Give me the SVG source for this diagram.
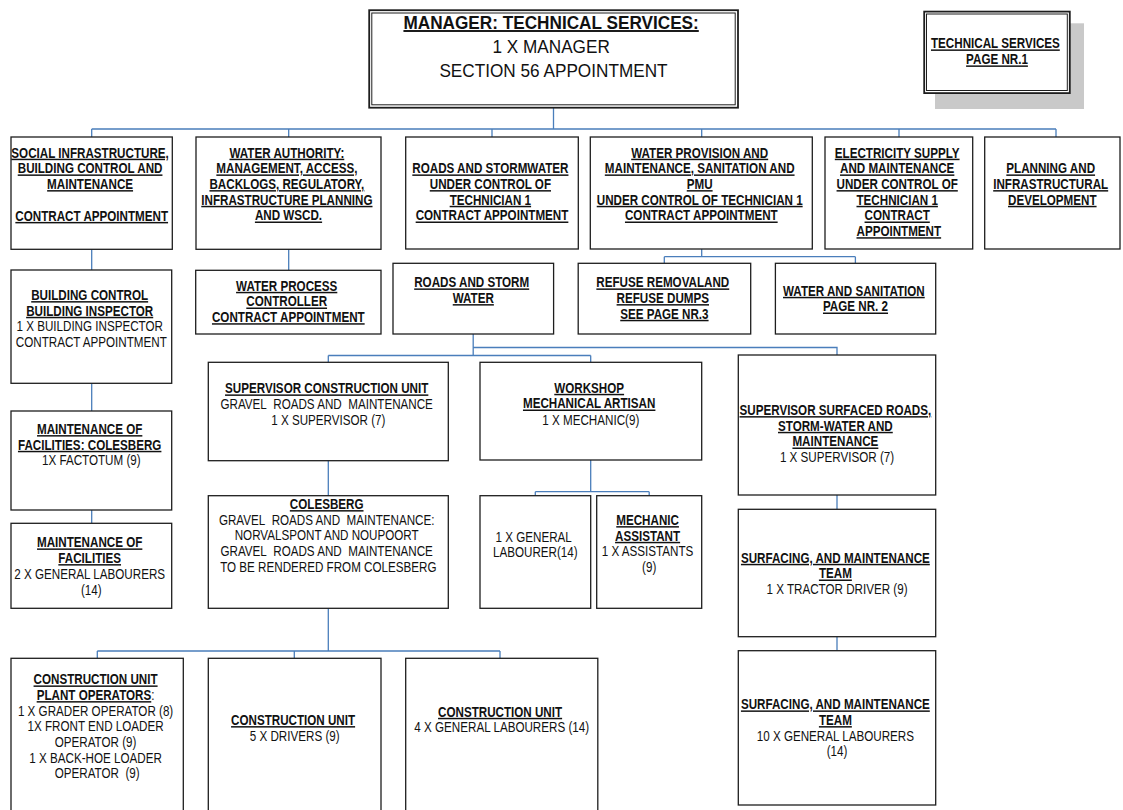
<svg xmlns="http://www.w3.org/2000/svg" width="1123" height="810" viewBox="0 0 1123 810">
  <style>
    .bg { fill: #ffffff; }
    .box { fill: #ffffff; stroke: #1e1e1e; stroke-width: 1.3; }
    .dbl { fill: #ffffff; stroke: #1e1e1e; stroke-width: 1.8; }
    .dbl-in { fill: none; stroke: #1e1e1e; stroke-width: 1; }
    .shadow { fill: #c9c9c9; }
    .wire { fill: none; stroke: #4a7ebb; stroke-width: 1.3; }
    .t { font-family: "Liberation Sans", Arial, sans-serif; font-size: 14.8px; fill: #111111; text-anchor: middle; }
    .big { font-size: 19px; }
    .b { font-weight: bold; text-decoration: underline; }
  </style>

  <rect class="bg" x="0" y="0" width="1123" height="810"/>

  <!-- connectors -->
  <g id="connectors">
    <path class="wire" d="M553.5 108 V129 M91.7 129 H1056 M91.7 129 V137 M288.7 129 V137 M492 129 V137 M701.7 129 V137 M899 129 V137 M1056 129 V137"/>
    <path class="wire" d="M91.7 249 V270 M288.7 249 V270.3"/>
    <path class="wire" d="M701.7 249 V256.7 M664.3 256.7 H855.4 M664.3 256.7 V263.3 M855.4 256.7 V263.3"/>
    <path class="wire" d="M473.2 334 V355.5 M473.2 347.5 H837 V355 M328.3 355.5 H590.7 M328.3 355.5 V362.3 M590.7 355.5 V362.3"/>
    <path class="wire" d="M91.7 383.3 V411 M91.7 510 V523.3"/>
    <path class="wire" d="M328.3 460.7 V495.7"/>
    <path class="wire" d="M590.7 460 V491.7 M535.3 491.7 H649.2 M535.3 491.7 V495.7 M649.2 491.7 V495.7"/>
    <path class="wire" d="M837 495 V509.3 M837 636.7 V650.7"/>
    <path class="wire" d="M328.3 608.3 V651 M97.3 651 H500 M97.3 651 V658.3 M294.3 651 V658.3 M500 651 V658.3"/>
  </g>

  <!-- head of department -->
  <g id="manager">
    <rect class="dbl" x="369.2" y="10.2" width="368.8" height="97.5"/>
    <rect class="dbl-in" x="371.8" y="13" width="363.4" height="91.8"/>
    <text class="t big" transform="translate(553.5 0) scale(0.905 1)">
      <tspan class="b" x="0" y="29">MANAGER: TECHNICAL SERVICES:</tspan>
      <tspan x="0" y="53.4">1 X MANAGER</tspan>
      <tspan x="0" y="77.4">SECTION 56 APPOINTMENT</tspan>
    </text>
  </g>

  <!-- page label -->
  <g id="page-label">
    <rect class="shadow" x="935" y="23.3" width="149" height="85.7"/>
    <rect class="dbl" x="924.2" y="11.6" width="145.6" height="81.5"/>
    <rect class="dbl-in" x="926.5" y="14" width="140.8" height="76.5"/>
    <text class="t" transform="translate(997 0) scale(0.787 1)">
      <tspan class="b" x="0" y="48.3">TECHNICAL SERVICES</tspan>
      <tspan class="b" x="0" y="64.3">PAGE NR.1</tspan>
    </text>
  </g>

  <!-- first level -->
  <g id="social-infrastructure">
    <rect class="box" x="11" y="137" width="161.3" height="112.3"/>
    <text class="t" transform="translate(91.7 0) scale(0.787 1)">
      <tspan class="b" x="0" y="157.6">SOCIAL INFRASTRUCTURE,</tspan>
      <tspan class="b" x="0" y="173.3">BUILDING CONTROL AND</tspan>
      <tspan class="b" x="0" y="189">MAINTENANCE</tspan>
      <tspan class="b" x="0" y="220.8">CONTRACT APPOINTMENT</tspan>
    </text>
  </g>

  <g id="water-authority">
    <rect class="box" x="196" y="137" width="185" height="112.3"/>
    <text class="t" transform="translate(288.5 0) scale(0.787 1)">
      <tspan class="b" x="0" y="157.6">WATER AUTHORITY:</tspan>
      <tspan class="b" x="0" y="173.3">MANAGEMENT, ACCESS,</tspan>
      <tspan class="b" x="0" y="189">BACKLOGS, REGULATORY,</tspan>
      <tspan class="b" x="0" y="204.7">INFRASTRUCTURE PLANNING</tspan>
      <tspan class="b" x="0" y="220.4">AND WSCD.</tspan>
    </text>
  </g>

  <g id="roads-stormwater">
    <rect class="box" x="405.7" y="137" width="172.6" height="112"/>
    <text class="t" transform="translate(492 0) scale(0.787 1)">
      <tspan class="b" x="0" y="173.3">ROADS AND STORMWATER</tspan>
      <tspan class="b" x="0" y="189">UNDER CONTROL OF</tspan>
      <tspan class="b" x="0" y="204.7">TECHNICIAN 1</tspan>
      <tspan class="b" x="0" y="220.4">CONTRACT APPOINTMENT</tspan>
    </text>
  </g>

  <g id="water-provision">
    <rect class="box" x="590.3" y="137" width="222" height="112"/>
    <text class="t" transform="translate(701.3 0) scale(0.787 1)">
      <tspan class="b" x="0" y="157.6">WATER PROVISION AND</tspan>
      <tspan class="b" x="0" y="173.3">MAINTENANCE, SANITATION AND</tspan>
      <tspan class="b" x="0" y="189">PMU</tspan>
      <tspan class="b" x="0" y="204.7">UNDER CONTROL OF TECHNICIAN 1</tspan>
      <tspan class="b" x="0" y="220.4">CONTRACT APPOINTMENT</tspan>
    </text>
  </g>

  <g id="electricity-supply">
    <rect class="box" x="825" y="137" width="147.7" height="112"/>
    <text class="t" transform="translate(898.8 0) scale(0.787 1)">
      <tspan class="b" x="0" y="157.6">ELECTRICITY SUPPLY</tspan>
      <tspan class="b" x="0" y="173.3">AND MAINTENANCE</tspan>
      <tspan class="b" x="0" y="189">UNDER CONTROL OF</tspan>
      <tspan class="b" x="0" y="204.7">TECHNICIAN 1</tspan>
      <tspan class="b" x="0" y="220.4">CONTRACT</tspan>
      <tspan class="b" x="0" y="236.1">APPOINTMENT</tspan>
    </text>
  </g>

  <g id="planning">
    <rect class="box" x="984.7" y="137" width="135.3" height="112"/>
    <text class="t" transform="translate(1052.3 0) scale(0.787 1)">
      <tspan class="b" x="0" y="173.3">PLANNING AND</tspan>
      <tspan class="b" x="0" y="189">INFRASTRUCTURAL</tspan>
      <tspan class="b" x="0" y="204.7">DEVELOPMENT</tspan>
    </text>
  </g>

  <!-- second level -->
  <g id="building-control">
    <rect class="box" x="11" y="270" width="160.7" height="113.3"/>
    <text class="t" transform="translate(91.3 0) scale(0.787 1)">
      <tspan class="b" x="0" y="300">BUILDING CONTROL</tspan>
      <tspan class="b" x="0" y="315.7">BUILDING INSPECTOR</tspan>
      <tspan x="0" y="331.4">1 X BUILDING INSPECTOR</tspan>
      <tspan x="0" y="347.1">CONTRACT APPOINTMENT</tspan>
    </text>
  </g>

  <g id="water-process">
    <rect class="box" x="195.7" y="270.3" width="185.3" height="63.7"/>
    <text class="t" transform="translate(288.3 0) scale(0.787 1)">
      <tspan class="b" x="0" y="290.7">WATER PROCESS</tspan>
      <tspan class="b" x="0" y="306.4">CONTROLLER</tspan>
      <tspan class="b" x="0" y="322.1">CONTRACT APPOINTMENT</tspan>
    </text>
  </g>

  <g id="roads-storm-water">
    <rect class="box" x="393" y="263.3" width="160.6" height="70.7"/>
    <text class="t" transform="translate(473.3 0) scale(0.787 1)">
      <tspan class="b" x="0" y="287.3">ROADS AND STORM</tspan>
      <tspan class="b" x="0" y="303">WATER</tspan>
    </text>
  </g>

  <g id="refuse-removal">
    <rect class="box" x="578.2" y="263.3" width="172.5" height="70.7"/>
    <text class="t" transform="translate(664.4 0) scale(0.787 1)">
      <tspan class="b" x="0" y="287.3">REFUSE REMOVALAND</tspan>
      <tspan class="b" x="0" y="303">REFUSE DUMPS</tspan>
      <tspan class="b" x="0" y="318.7">SEE PAGE NR.3</tspan>
    </text>
  </g>

  <g id="water-sanitation">
    <rect class="box" x="775.4" y="263.3" width="160.3" height="70.7"/>
    <text class="t" transform="translate(855.5 0) scale(0.787 1)">
      <tspan class="b" x="0" y="295.7">WATER AND SANITATION</tspan>
      <tspan class="b" x="0" y="311.4">PAGE NR. 2</tspan>
    </text>
  </g>

  <!-- building maintenance chain -->
  <g id="maintenance-colesberg">
    <rect class="box" x="11" y="411" width="160.7" height="99"/>
    <text class="t" transform="translate(91.3 0) scale(0.787 1)">
      <tspan class="b" x="0" y="434">MAINTENANCE OF</tspan>
      <tspan class="b" x="0" y="449.7">FACILITIES: COLESBERG</tspan>
      <tspan x="0" y="465.4">1X FACTOTUM (9)</tspan>
    </text>
  </g>

  <g id="maintenance-facilities">
    <rect class="box" x="11" y="523.3" width="160.7" height="85"/>
    <text class="t" transform="translate(91.3 0) scale(0.787 1)">
      <tspan class="b" x="0" y="547.3">MAINTENANCE OF</tspan>
      <tspan class="b" x="0" y="563">FACILITIES</tspan>
      <tspan x="0" y="578.7">2 X GENERAL LABOURERS</tspan>
      <tspan x="0" y="594.6">(14)</tspan>
    </text>
  </g>

  <!-- roads and storm water sections -->
  <g id="supervisor-construction">
    <rect class="box" x="208.3" y="362.3" width="240" height="98.4"/>
    <text class="t" transform="translate(328.3 0) scale(0.787 1)">
      <tspan class="b" x="0" y="393.3">SUPERVISOR CONSTRUCTION UNIT</tspan>
      <tspan x="0" y="409">GRAVEL&#160; ROADS AND&#160; MAINTENANCE</tspan>
      <tspan x="0" y="424.9">1 X SUPERVISOR (7)</tspan>
    </text>
  </g>

  <g id="colesberg">
    <rect class="box" x="208.3" y="495.7" width="240" height="112.6"/>
    <text class="t" transform="translate(328.3 0) scale(0.787 1)">
      <tspan class="b" x="0" y="509">COLESBERG</tspan>
      <tspan x="0" y="524.7">GRAVEL&#160; ROADS AND&#160; MAINTENANCE:</tspan>
      <tspan x="0" y="540.4">NORVALSPONT AND NOUPOORT</tspan>
      <tspan x="0" y="556.1">GRAVEL&#160; ROADS AND&#160; MAINTENANCE</tspan>
      <tspan x="0" y="571.8">TO BE RENDERED FROM COLESBERG</tspan>
    </text>
  </g>

  <g id="workshop">
    <rect class="box" x="480" y="362.3" width="221.7" height="97.7"/>
    <text class="t" transform="translate(590.8 0) scale(0.787 1)">
      <tspan class="b" x="0" y="392.7">WORKSHOP</tspan>
      <tspan class="b" x="0" y="408.4">MECHANICAL ARTISAN</tspan>
      <tspan x="0" y="424.6">1 X MECHANIC(9)</tspan>
    </text>
  </g>

  <g id="general-labourer">
    <rect class="box" x="480" y="495.7" width="110.7" height="112.6"/>
    <text class="t" transform="translate(535.3 0) scale(0.787 1)">
      <tspan x="0" y="541.7">1 X GENERAL</tspan>
      <tspan x="0" y="557.4">LABOURER(14)</tspan>
    </text>
  </g>

  <g id="mechanic-assistant">
    <rect class="box" x="596.7" y="495.7" width="105" height="112.6"/>
    <text class="t" transform="translate(649.2 0) scale(0.787 1)">
      <tspan class="b" x="0" y="525">MECHANIC</tspan>
      <tspan class="b" x="0" y="540.7">ASSISTANT</tspan>
      <tspan x="0" y="556.4">1 X ASSISTANTS</tspan>
      <tspan x="0" y="572.1">(9)</tspan>
    </text>
  </g>

  <g id="supervisor-surfaced">
    <rect class="box" x="738.3" y="355" width="197.4" height="140"/>
    <text class="t" transform="translate(837 0) scale(0.787 1)">
      <tspan class="b" x="0" y="415">SUPERVISOR SURFACED ROADS,</tspan>
      <tspan class="b" x="0" y="430.7">STORM-WATER AND</tspan>
      <tspan class="b" x="0" y="446.4">MAINTENANCE</tspan>
      <tspan x="0" y="462.1">1 X SUPERVISOR (7)</tspan>
    </text>
  </g>

  <g id="surfacing-team-driver">
    <rect class="box" x="738.3" y="509.3" width="197.4" height="127.4"/>
    <text class="t" transform="translate(837 0) scale(0.787 1)">
      <tspan class="b" x="0" y="562.7">SURFACING, AND MAINTENANCE</tspan>
      <tspan class="b" x="0" y="578.4">TEAM</tspan>
      <tspan x="0" y="594.1">1 X TRACTOR DRIVER (9)</tspan>
    </text>
  </g>

  <g id="surfacing-team-labourers">
    <rect class="box" x="738.3" y="650.7" width="197.4" height="154.3"/>
    <text class="t" transform="translate(837 0) scale(0.787 1)">
      <tspan class="b" x="0" y="709.3">SURFACING, AND MAINTENANCE</tspan>
      <tspan class="b" x="0" y="725">TEAM</tspan>
      <tspan x="0" y="740.7">10 X GENERAL LABOURERS</tspan>
      <tspan x="0" y="756.4">(14)</tspan>
    </text>
  </g>

  <!-- construction unit -->
  <g id="plant-operators">
    <rect class="box" x="11" y="658.3" width="172.3" height="160"/>
    <text class="t" transform="translate(97.2 0) scale(0.787 1)">
      <tspan class="b" x="0" y="684.3">CONSTRUCTION UNIT</tspan>
      <tspan x="0" y="700"><tspan class="b">PLANT OPERATORS</tspan>:</tspan>
      <tspan x="0" y="715.7">1 X GRADER OPERATOR (8)</tspan>
      <tspan x="0" y="731.4">1X FRONT END LOADER</tspan>
      <tspan x="0" y="747.1">OPERATOR (9)</tspan>
      <tspan x="0" y="762.8">1 X BACK-HOE LOADER</tspan>
      <tspan x="0" y="778.5">OPERATOR&#160; (9)</tspan>
    </text>
  </g>

  <g id="drivers">
    <rect class="box" x="208.3" y="658.3" width="172.7" height="160"/>
    <text class="t" transform="translate(294.7 0) scale(0.787 1)">
      <tspan class="b" x="0" y="725">CONSTRUCTION UNIT</tspan>
      <tspan x="0" y="740.7">5 X DRIVERS (9)</tspan>
    </text>
  </g>

  <g id="general-labourers">
    <rect class="box" x="405.7" y="658.3" width="192.1" height="160"/>
    <text class="t" transform="translate(501.7 0) scale(0.787 1)">
      <tspan class="b" x="0" y="716.7">CONSTRUCTION UNIT</tspan>
      <tspan x="0" y="732.4">4 X GENERAL LABOURERS (14)</tspan>
    </text>
  </g>
</svg>
